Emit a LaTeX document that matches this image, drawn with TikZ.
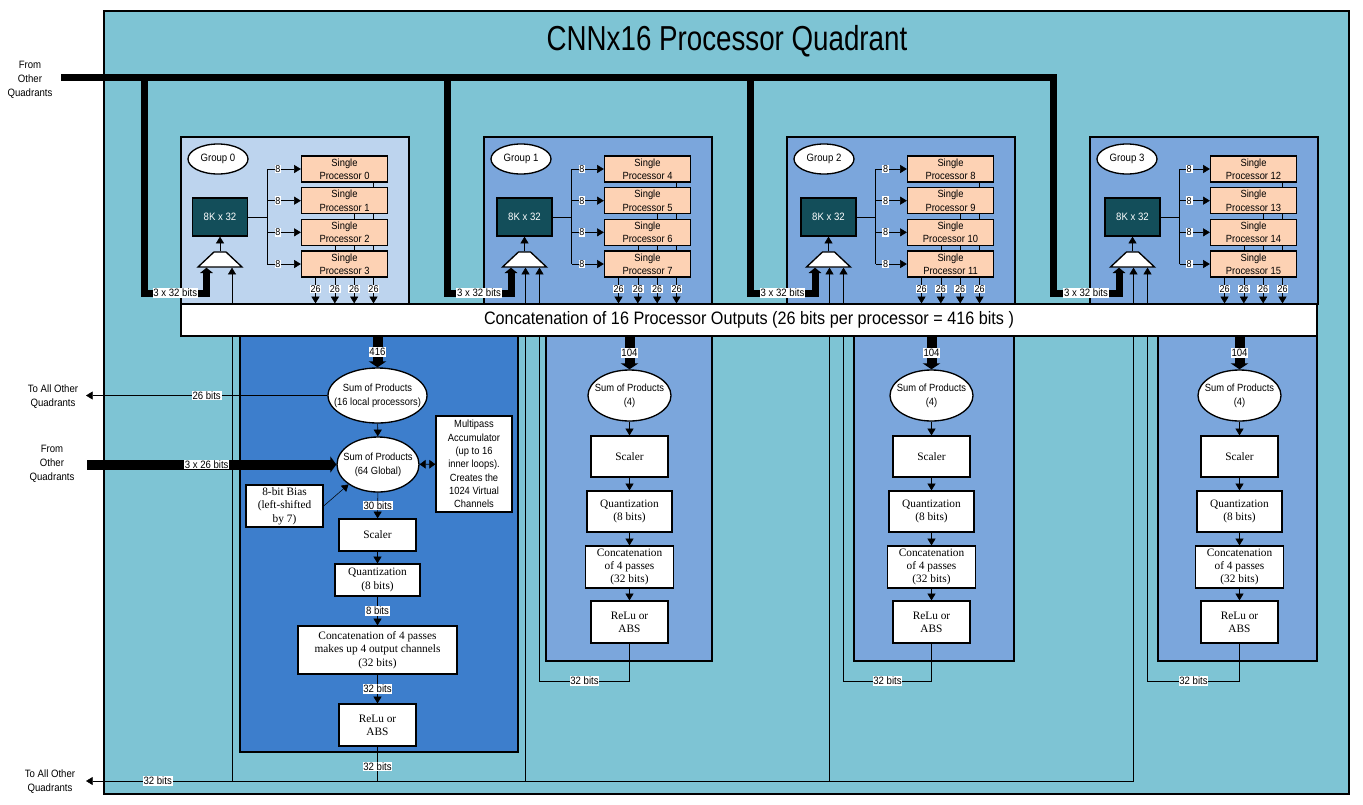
\documentclass[tikz,border=0pt]{standalone}
\usepackage{fontspec}
\setmainfont{Liberation Sans}[FakeStretch=0.9]
\newfontfamily\serifbox{Liberation Serif}
\newfontfamily\titlefont{Liberation Sans}[FakeStretch=0.8]
\usetikzlibrary{arrows.meta,shapes.geometric,calc}

\definecolor{quadcyan}{RGB}{126,196,212}
\definecolor{grplight}{RGB}{189,212,238}
\definecolor{grpblue}{RGB}{123,166,220}
\definecolor{grpdark}{RGB}{61,126,204}
\definecolor{memteal}{RGB}{19,78,90}
\definecolor{procpeach}{RGB}{253,210,180}

\pgfdeclarelayer{panel}
\pgfdeclarelayer{wire}
\pgfsetlayers{panel,wire,main}

\tikzset{every picture/.style={line width=0.75pt}}
\tikzset{
  panel/.style={draw=black,line width=1pt},
  txt/.style={inner sep=0pt,align=center,font=\fontsize{8}{10.5}\selectfont},
  lbl/.style={fill=white,inner sep=0.6pt,font=\fontsize{8}{9.5}\selectfont},
  lblsm/.style={fill=white,inner sep=0.6pt,font=\fontsize{7.5}{8.5}\selectfont},
  procbox/.style={draw,line width=1pt,fill=procpeach,minimum width=64.5pt,minimum height=19.5pt,inner sep=0pt,align=center,font=\fontsize{7.8}{10}\selectfont},
  membox/.style={draw,line width=1pt,fill=memteal,text=white,minimum width=41.25pt,minimum height=28.5pt,inner sep=0pt,font=\fontsize{8}{10}\selectfont},
  muxshape/.style={trapezium,draw,line width=1pt,fill=white,trapezium angle=70,trapezium stretches=true,minimum width=33pt,minimum height=11.25pt,inner sep=1pt},
  grpoval/.style={ellipse,draw,line width=1pt,fill=white,minimum width=45pt,minimum height=22.5pt,inner sep=0pt,font=\fontsize{8}{10}\selectfont},
  sumoval/.style={ellipse,draw,line width=1pt,fill=white,inner sep=-12pt,align=center,font=\fontsize{7.8}{10.5}\selectfont},
  stagebox/.style={draw,line width=1pt,fill=white,inner sep=0pt,align=center,font=\serifbox\fontsize{8.5}{10}\selectfont},
  notebox/.style={draw,line width=1pt,fill=white,inner sep=0pt,align=center,font=\fontsize{7.8}{10}\selectfont},
  barbox/.style={draw,line width=1pt,fill=white,minimum width=852pt,minimum height=24pt,inner sep=0pt,font=\fontsize{13.5}{16}\selectfont},
  arr/.style={-{Triangle[length=5pt,width=6pt]}},
  dblarr/.style={{Triangle[length=4.5pt,width=6.5pt]}-{Triangle[length=4.5pt,width=6.5pt]}},
  fatarr/.style={line width=7.5pt,-{Triangle[length=4.5pt,width=13pt]}},
  busline/.style={line width=5.25pt,line cap=rect},
  busarr/.style={line width=5.25pt,-{Triangle[length=4pt,width=9.5pt]}},
}

\begin{document}
\begin{tikzpicture}[x=0.75pt,y=0.75pt,yscale=-1,xscale=1]
\useasboundingbox (0,0) rectangle (1363,804);

%Shape: Rectangle (quadrant and group 0 datapath)
\begin{pgfonlayer}{panel}
\draw[panel,fill=quadcyan] (104,11) rectangle (1349,794);
\draw[panel,fill=grpdark] (240,336) rectangle (518,752);
\end{pgfonlayer}

% Text Node
\draw (727,41) node [inner sep=0pt,font=\titlefont\fontsize{26}{30}\selectfont] (title) {CNNx16 Processor Quadrant};
% Text Node
\draw (749,320) node [barbox] (bar) {Concatenation of 16 Processor Outputs (26 bits per processor = 416 bits )};

% Groups: memory, mux and four processors each
\foreach \g/\gx/\mx/\gfill in {0/181/220/grplight,1/484/524.5/grpblue,2/787/828.5/grpblue,3/1090/1132.5/grpblue}{
  \begin{pgfonlayer}{panel}
  \draw[panel,fill=\gfill] (\gx,137) rectangle ++(228,167);
  \end{pgfonlayer}
  \draw (\gx+37,159) node [grpoval] (grp\g) {Group \g};
  \draw (\mx,217) node [membox] (mem\g) {8K x 32};
  \draw (\mx,259.5) node [muxshape] (mux\g) {\vphantom{x}};
  \coordinate (spl\g) at (\mx+47,217);
  \draw[arr] (mux\g.north) -- (mem\g.south);
  \draw (mem\g.east) -- (spl\g);
  \foreach \k in {0,...,3}{
    \pgfmathtruncatemacro\pn{4*\g+\k}
    \draw (\gx+163.5,169+31.67*\k) node [procbox] (sp\g-\k) {Single\\Processor \pn};
    \draw[arr] (spl\g |- sp\g-\k) -- node[lblsm,pos=0.32] (b\g-\k) {8} (sp\g-\k.west);
    \coordinate (o\g-\k) at ($(sp\g-\k.south)+(29-19.33*\k,0)$);
    \begin{pgfonlayer}{wire}
    \draw[arr] (o\g-\k) -- (o\g-\k |- bar.north);
    \end{pgfonlayer}
    \draw (o\g-\k |- 0,289) node [lblsm] (w\g-\k) {26};
  }
  \draw (spl\g |- sp\g-0) -- (spl\g |- sp\g-3);
  % Connection from the bus
  \coordinate (drop\g) at (\gx-37,77);
  \coordinate (feed\g) at (\mx-13.5,293);
  \draw[busarr] (drop\g) |- node[lbl,pos=0.75] (tb\g) {3 x 32 bits} (feed\g) -- (feed\g |- mux\g.south);
}

% Connection: bus from other quadrants
\coordinate (src) at (64.5,77);
\draw[busline] (src) -- (drop3);
\draw (30,80) node [txt] (fromq1) {From\\Other\\Quadrants};

% Group 0 datapath
\draw (377.5,395.5) node [sumoval,minimum width=74.25pt,minimum height=41.25pt] (sop0) {Sum of Products\\(16 local processors)};
\draw (378,464.5) node [sumoval,minimum width=61.5pt,minimum height=41.25pt] (gsop) {Sum of Products\\(64 Global)};
\draw (474,464) node [notebox,minimum width=57pt,minimum height=72pt] (mpa) {Multipass\\Accumulator\\(up to 16\\inner loops).\\Creates the\\1024 Virtual\\Channels};
\draw (284.5,506) node [stagebox,minimum width=57.75pt,minimum height=31.5pt] (bias) {8-bit Bias\\(left-shifted\\by 7)};
\draw (377.5,535) node [stagebox,minimum width=57.75pt,minimum height=24pt] (scl0) {Scaler};
\draw (377.5,580) node [stagebox,minimum width=63.75pt,minimum height=24pt] (qnt0) {Quantization\\(8 bits)};
\draw (377.5,650) node [stagebox,minimum width=119.25pt,minimum height=36pt] (cat0) {Concatenation of 4 passes\\makes up 4 output channels\\(32 bits)};
\draw (377.5,725) node [stagebox,minimum width=57.75pt,minimum height=31.5pt] (relu0) {ReLu or\\ABS};

\draw[fatarr] (sop0 |- bar.south) -- node[lbl] (n416) {416} (sop0.north);
\draw[arr] (sop0) -- (gsop);
\draw[arr] (gsop) -- node[lbl] (n30) {30 bits} (scl0);
\draw[arr] (scl0) -- (qnt0);
\draw[arr] (qnt0) -- node[lbl] (n8) {8 bits} (cat0);
\draw[arr] (cat0) -- node[lbl] (n32) {32 bits} (relu0);
\draw[dblarr] (gsop) -- (mpa);
\draw[arr] (bias.east) -- (gsop.south west);

% Connection: to and from the other quadrants
\coordinate (toq1) at (86,395.5);
\draw[arr] (sop0.west) -- node[lbl,pos=0.5] (n26) {26 bits} (toq1);
\draw (53,397) node [txt] (toq1txt) {To All Other\\Quadrants};
\coordinate (fromq2) at (87,464.5);
\draw[line width=7.5pt,-{Triangle[length=4.5pt,width=12pt]}] (fromq2) -- node[lbl,pos=0.48] (n326) {3 x 26 bits} (gsop.west);
\draw (52,464) node [txt] (fromq2txt) {From\\Other\\Quadrants};

% Groups 1-3 datapaths
\foreach \g/\cx/\px/\pw/\mx in {1/629.5/546/166/524.5,2/931.5/854/160/828.5,3/1239.5/1158/159/1132.5}{
  \begin{pgfonlayer}{panel}
  \draw[panel,fill=grpblue] (\px,336) rectangle ++(\pw,325);
  \end{pgfonlayer}
  \draw (\cx,395.5) node [sumoval,minimum width=62.25pt,minimum height=38.25pt] (sop\g) {Sum of Products\\(4)};
  \draw (\cx,456.5) node [stagebox,minimum width=57.75pt,minimum height=30.75pt] (scl\g) {Scaler};
  \draw (\cx,511.5) node [stagebox,minimum width=63.75pt,minimum height=30.75pt] (qnt\g) {Quantization\\(8 bits)};
  \draw (\cx,567) node [stagebox,minimum width=66pt,minimum height=31.5pt] (cat\g) {Concatenation\\of 4 passes\\(32 bits)};
  \draw (\cx,622) node [stagebox,minimum width=57.75pt,minimum height=31.5pt] (relu\g) {ReLu or\\ABS};
  \draw[fatarr] (sop\g |- bar.south) -- node[lbl] (n104-\g) {104} (sop\g.north);
  \draw[arr] (sop\g) -- (scl\g);
  \draw[arr] (scl\g) -- (qnt\g);
  \draw[arr] (qnt\g) -- (cat\g);
  \draw[arr] (cat\g) -- (relu\g);
  \coordinate (fb\g) at (\mx+15,681);
  \begin{pgfonlayer}{wire}
  \draw[arr] (relu\g.south) |- node[lbl,pos=0.75] (fbl\g) {32 bits} (fb\g) -- (fb\g |- mux\g.south);
  \end{pgfonlayer}
}

% Connection: group 0 result to the muxes and the other quadrants
\coordinate (toq2) at (86,781);
\foreach \g/\tx in {0/232,1/525.5,2/829.5,3/1133.5}
  \coordinate (tap\g) at (\tx,781);
\begin{pgfonlayer}{wire}
\draw[arr] (relu0.south) |- node[lbl,pos=0.285] (ob1) {32 bits} node[lbl,pos=0.877] (ob2) {32 bits} (toq2);
\draw (tap0) -- (tap3);
\foreach \g in {0,...,3}
  \draw[arr] (tap\g) -- (tap\g |- mux\g.south);
\end{pgfonlayer}
\draw (50,782) node [txt] (toq2txt) {To All Other\\Quadrants};

\end{tikzpicture}
\end{document}
